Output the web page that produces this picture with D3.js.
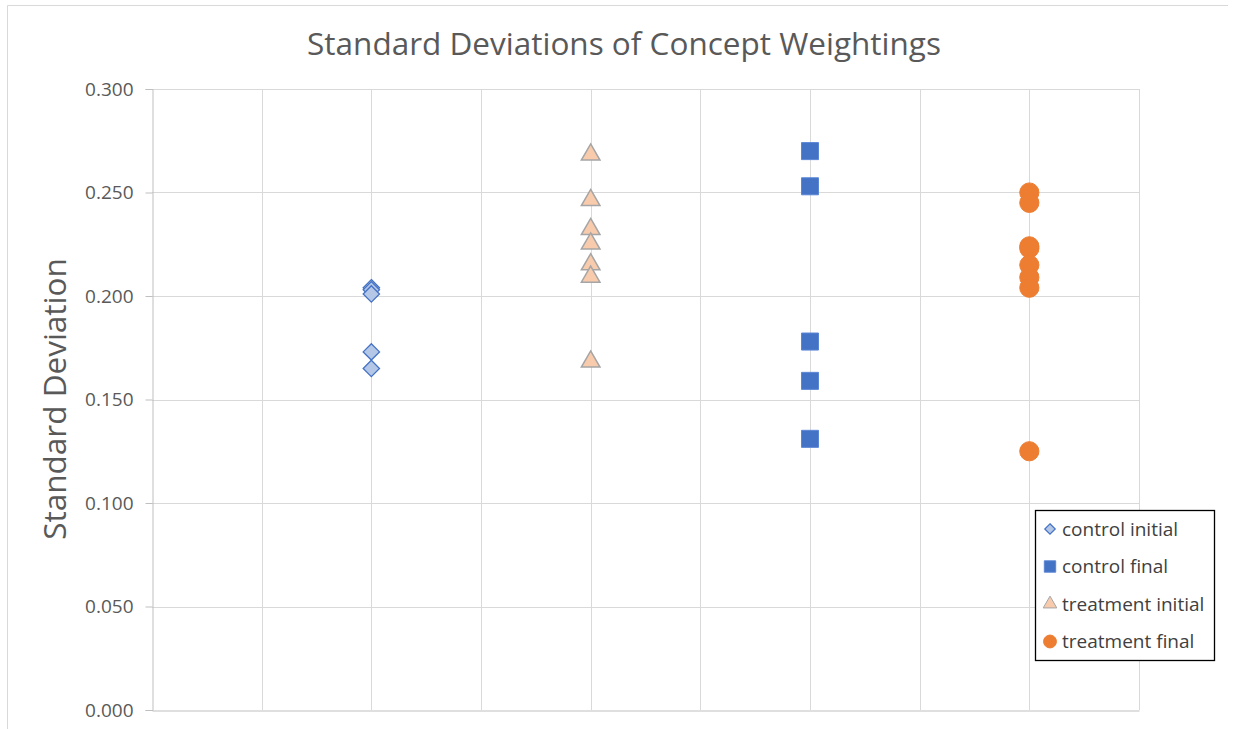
<!DOCTYPE html>
<html>
<head>
<meta charset="utf-8">
<script src="https://cdn.jsdelivr.net/npm/d3@7"></script>
<style>
  html, body { margin: 0; padding: 0; background: #fff; }
  svg { display: block; font-family: "Open Sans", "Noto Sans", sans-serif; }
</style>
</head>
<body>
<svg id="chart" width="1238" height="729"></svg>
<script>
// Standard deviations of concept weightings, per group
const seriesNames = ["control initial", "control final", "treatment initial", "treatment final"];
const seriesX = [2, 6, 4, 8];
const controlInitial = [0.204, 0.203, 0.201, 0.173, 0.165];
const controlFinal = [0.270, 0.253, 0.178, 0.159, 0.131];
const treatmentInitial = [0.269, 0.247, 0.233, 0.226, 0.216, 0.210, 0.169];
const treatmentFinal = [0.250, 0.245, 0.224, 0.223, 0.215, 0.209, 0.204, 0.125];
const yTicks = [0, 0.05, 0.1, 0.15, 0.2, 0.25, 0.3];
const xGrid = [1, 2, 3, 4, 5, 6, 7, 8, 9];

const svg = d3.select("#chart");
const plotLeft = 152, plotRight = 1139, plotTop = 89, plotBottom = 710;

const x = d3.scaleLinear().domain([0, 9]).range([plotLeft, plotRight]);
const y = d3.scaleLinear().domain([0, 0.3]).range([plotBottom, plotTop]);

// outer chart frame (top and left edges visible)
svg.append("line").attr("x1", 7.5).attr("x2", 1228).attr("y1", 5.5).attr("y2", 5.5)
  .attr("stroke", "#d9d9d9").attr("stroke-width", 1);
svg.append("line").attr("x1", 7.5).attr("x2", 7.5).attr("y1", 5.5).attr("y2", 729)
  .attr("stroke", "#d9d9d9").attr("stroke-width", 1);

// gridlines
const grid = svg.append("g");
grid.selectAll("line.h").data(yTicks.filter(d => d > 0)).join("line")
  .attr("x1", plotLeft).attr("x2", plotRight)
  .attr("y1", d => Math.round(y(d)) + 0.5).attr("y2", d => Math.round(y(d)) + 0.5)
  .attr("stroke", "#d9d9d9");
grid.selectAll("line.v").data(xGrid).join("line")
  .attr("y1", plotTop).attr("y2", plotBottom)
  .attr("x1", d => Math.round(x(d)) + 0.5).attr("x2", d => Math.round(x(d)) + 0.5)
  .attr("stroke", "#d9d9d9");

// y axis
const yAxis = d3.axisLeft(y).tickValues(yTicks).tickFormat(d3.format(".3f"))
  .tickSize(7).tickPadding(12);
const yg = svg.append("g").attr("transform", `translate(${plotLeft + 0.5},0)`).call(yAxis);
yg.select(".domain").attr("stroke", "#bfbfbf");
yg.selectAll(".tick line").attr("stroke", "#bfbfbf");
yg.selectAll(".tick text").attr("fill", "#595959").style("font-size", "19px")
  .style("font-family", "'Open Sans', sans-serif");

// x axis baseline
const xAxis = d3.axisBottom(x).tickValues([]).tickSize(0);
const xg = svg.append("g").attr("transform", `translate(0,${plotBottom + 0.5})`).call(xAxis);
xg.select(".domain").attr("stroke", "#bfbfbf");

// title
svg.append("text").attr("x", 624).attr("y", 55).attr("text-anchor", "middle")
  .attr("fill", "#595959").style("font-size", "31.5px").text("Standard Deviations of Concept Weightings");

// y axis title
svg.append("text").attr("transform", "translate(66,399) rotate(-90)").attr("text-anchor", "middle")
  .attr("fill", "#595959").style("font-size", "31.5px").text("Standard Deviation");

// marker shapes
const blue = "#4472c4", lightBlue = "#b4c7e7", peach = "#f8cbad", orange = "#ed7d31";
const styles = [
  { shape: d3.symbolDiamond2, size: 170, fill: lightBlue, stroke: blue, sw: 1.3, dy: 0 },
  { shape: d3.symbolSquare, size: 290, fill: blue, stroke: "#5b86d6", sw: 1, dy: 0 },
  { shape: d3.symbolTriangle, size: 150, fill: peach, stroke: "#a5a5a5", sw: 1.5, dy: 1.5 },
  { shape: d3.symbolCircle, size: 290, fill: orange, stroke: orange, sw: 1, dy: 0 }
];
const values = [controlInitial, controlFinal, treatmentInitial, treatmentFinal];

values.forEach((vals, i) => {
  const st = styles[i];
  svg.append("g").selectAll("path").data(vals).join("path")
    .attr("d", d3.symbol().type(st.shape).size(st.size))
    .attr("transform", d => `translate(${x(seriesX[i])},${y(d) + st.dy})`)
    .attr("fill", st.fill).attr("stroke", st.stroke).attr("stroke-width", st.sw);
});

// legend
const lg = svg.append("g");
lg.append("rect").attr("x", 1035.5).attr("y", 510.5).attr("width", 179).attr("height", 150)
  .attr("fill", "#fff").attr("stroke", "#000").attr("stroke-width", 1.3);
const legendSizes = [70, 130, 80, 130];
seriesNames.forEach((name, i) => {
  const st = styles[i];
  const ly = 529 + i * 37.5;
  lg.append("path").attr("d", d3.symbol().type(st.shape).size(legendSizes[i]))
    .attr("transform", `translate(1050,${ly})`)
    .attr("fill", st.fill).attr("stroke", st.stroke).attr("stroke-width", i === 0 ? 1.2 : 1);
  lg.append("text").attr("x", 1062).attr("y", ly + 6.5).attr("fill", "#404040")
    .style("font-size", "19px").text(name);
});
</script>
</body>
</html>
